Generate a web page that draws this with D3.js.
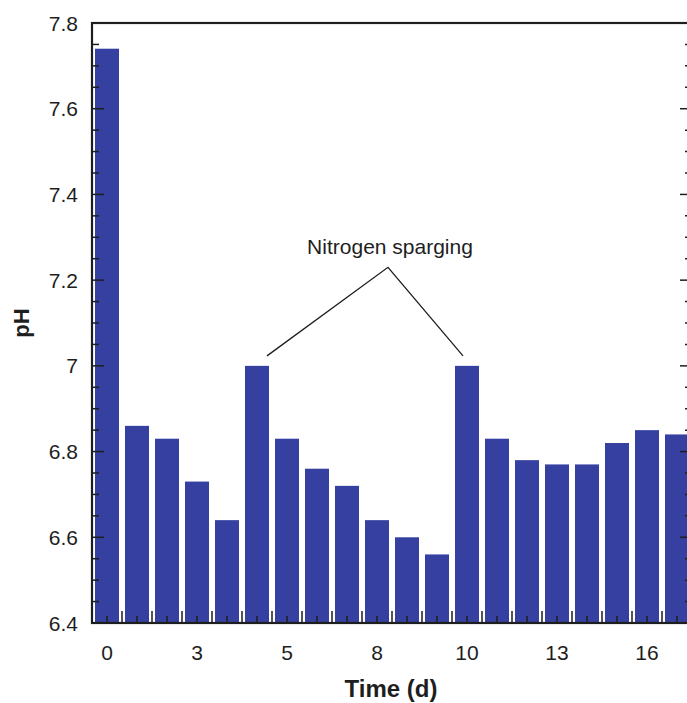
<!DOCTYPE html>
<html><head><meta charset="utf-8">
<script src="https://cdn.jsdelivr.net/npm/d3@7"></script>
<style>body{margin:0;background:#fff;} svg{display:block;font-family:"Liberation Sans",Arial,sans-serif;}</style>
</head><body>
<svg id="chart" width="687" height="703"></svg>
<script>
const categories = d3.range(20).map(String);
const phValues = [7.74, 6.86, 6.83, 6.73, 6.64, 7.00, 6.83, 6.76, 6.72, 6.64, 6.60, 6.56, 7.00, 6.83, 6.78, 6.77, 6.77, 6.82, 6.85, 6.84];
const xTickIndex = [0, 3, 6, 9, 12, 15, 18];
const xTickLabels = ["0", "3", "5", "8", "10", "13", "16"];
const yTickValues = [6.4, 6.6, 6.8, 7.0, 7.2, 7.4, 7.6, 7.8];
const yTickLabels = ["6.4", "6.6", "6.8", "7", "7.2", "7.4", "7.6", "7.8"];
const annotationText = "Nitrogen sparging";
const annotatedBars = [5, 12];

const svg = d3.select("#chart");
const L = 92, R = 692, T = 23, B = 623;
const ink = "#1e1e1e";
const barColor = "#3540a0";

const x = d3.scaleBand().domain(categories).range([L, R]).paddingInner(0.2).paddingOuter(0.1);
const y = d3.scaleLinear().domain([6.4, 7.8]).range([B, T]);

// bars
svg.append("g").selectAll("rect").data(phValues).join("rect")
  .attr("x", (d, i) => x(categories[i]))
  .attr("width", x.bandwidth())
  .attr("y", d => y(d))
  .attr("height", d => y(6.4) - y(d))
  .attr("fill", barColor);

// y ticks (major + minor)
const minor = d3.range(0, 29).map(i => 6.4 + i * 0.05);
const gAx = svg.append("g").attr("stroke", ink);
minor.forEach(v => {
  const isMajor = Math.abs(Math.round(v * 5) - v * 5) < 1e-6;
  const len = isMajor ? 12 : 7;
  gAx.append("line").attr("x1", L).attr("x2", L + len).attr("y1", y(v)).attr("y2", y(v)).attr("stroke-width", 1.5);
  gAx.append("line").attr("x1", R).attr("x2", R - len).attr("y1", y(v)).attr("y2", y(v)).attr("stroke-width", 1.5);
});

// x ticks: between bars (tall) and at bar centers (short)
const step = x.step();
d3.range(0, 21).forEach(i => {
  const xx = L + i * step;
  gAx.append("line").attr("x1", xx).attr("x2", xx).attr("y1", B).attr("y2", B - 12).attr("stroke-width", 1.5);
});
categories.forEach(c => {
  const xx = x(c) + x.bandwidth() / 2;
  gAx.append("line").attr("x1", xx).attr("x2", xx).attr("y1", B).attr("y2", B - 7).attr("stroke-width", 1.5);
});

// frame
svg.append("rect").attr("x", L).attr("y", T).attr("width", R - L).attr("height", B - T)
  .attr("fill", "none").attr("stroke", ink).attr("stroke-width", 2.2);

// y labels
svg.append("g").selectAll("text").data(yTickValues).join("text")
  .attr("x", 78).attr("y", d => y(d)).attr("dy", "0.36em")
  .attr("text-anchor", "end").attr("font-size", 21).attr("fill", ink)
  .text((d, i) => yTickLabels[i]);

// x labels
svg.append("g").selectAll("text").data(xTickIndex).join("text")
  .attr("x", d => x(categories[d]) + x.bandwidth() / 2).attr("y", 660)
  .attr("text-anchor", "middle").attr("font-size", 21).attr("fill", ink)
  .text((d, i) => xTickLabels[i]);

// axis titles
svg.append("text").attr("x", (L + R) / 2 - 1).attr("y", 697).attr("text-anchor", "middle")
  .attr("font-size", 24).attr("font-weight", "bold").attr("fill", ink).text("Time (d)");
svg.append("text").attr("transform", `translate(29,${(T + B) / 2}) rotate(-90)`)
  .attr("text-anchor", "middle").attr("font-size", 22).attr("font-weight", "bold").attr("fill", ink).text("pH");

// annotation
const apexX = 388, apexY = y(7.23);
const b1 = annotatedBars[0], b2 = annotatedBars[1];
const p1 = [x(categories[b1]) + x.bandwidth() / 2 + 10, y(phValues[b1]) - 10];
const p2 = [x(categories[b2]) + x.bandwidth() / 2 - 4, y(phValues[b2]) - 10];
svg.append("path").attr("d", `M${p1[0]},${p1[1]}L${apexX},${apexY}L${p2[0]},${p2[1]}`)
  .attr("fill", "none").attr("stroke", ink).attr("stroke-width", 1.3);
svg.append("text").attr("x", 390).attr("y", 254).attr("text-anchor", "middle")
  .attr("font-size", 21).attr("fill", ink).text(annotationText);
</script>
</body></html>
